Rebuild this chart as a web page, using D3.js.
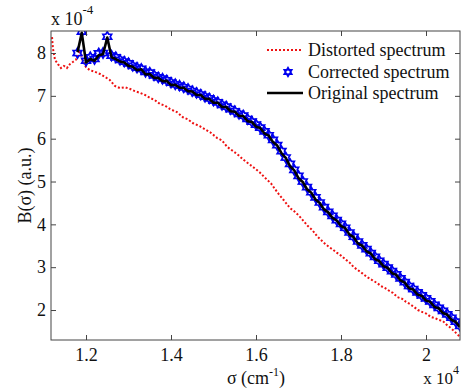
<!DOCTYPE html>
<html>
<head>
<meta charset="utf-8">
<script src="https://cdn.jsdelivr.net/npm/d3@7"></script>
<style>
  body { margin: 0; background: #fff; }
  svg text { font-family: "Liberation Serif", "Times New Roman", Times, "DejaVu Serif", serif; fill: #111; }
</style>
</head>
<body>
<svg id="chart"></svg>
<script>
// wavenumber (x 1e4 cm^-1) and B (x 1e-4 a.u.)
const distSigma = [1.120, 1.122, 1.127, 1.134, 1.141, 1.148, 1.155, 1.162, 1.169, 1.176, 1.181, 1.186, 1.193,
  1.200, 1.209, 1.221, 1.233, 1.245, 1.256, 1.268, 1.280, 1.292, 1.304, 1.315, 1.327, 1.339, 1.351, 1.362, 1.374,
  1.386, 1.398, 1.414, 1.428, 1.440, 1.452, 1.468, 1.480, 1.492, 1.508, 1.520, 1.532, 1.546, 1.558, 1.569, 1.586,
  1.598, 1.609, 1.626, 1.635, 1.645, 1.654, 1.664, 1.680, 1.692, 1.704, 1.722, 1.733, 1.744, 1.762, 1.772, 1.781,
  1.790, 1.800, 1.812, 1.821, 1.830, 1.840, 1.851, 1.861, 1.873, 1.885, 1.894, 1.904, 1.913, 1.922, 1.933, 1.944,
  1.953, 1.962, 1.972, 1.981, 1.992, 2.002, 2.011, 2.021, 2.030, 2.040, 2.048, 2.056, 2.064, 2.071, 2.080];
const distorted = [8.37, 8.12, 7.84, 7.74, 7.65, 7.70, 7.65, 7.74, 7.79, 7.84, 7.93, 8.07, 7.79,
  7.67, 7.60, 7.56, 7.51, 7.44, 7.37, 7.23, 7.18, 7.20, 7.16, 7.11, 7.07, 7.02, 6.95, 6.90, 6.81,
  6.77, 6.69, 6.62, 6.50, 6.45, 6.36, 6.29, 6.22, 6.15, 6.02, 5.96, 5.81, 5.71, 5.62, 5.52, 5.39,
  5.30, 5.21, 5.04, 4.96, 4.82, 4.70, 4.58, 4.38, 4.29, 4.17, 3.96, 3.86, 3.72, 3.55, 3.47, 3.41,
  3.34, 3.27, 3.17, 3.10, 3.00, 2.93, 2.85, 2.77, 2.70, 2.63, 2.56, 2.51, 2.45, 2.40, 2.30, 2.26,
  2.19, 2.14, 2.07, 2.00, 1.95, 1.91, 1.84, 1.81, 1.77, 1.74, 1.66, 1.60, 1.53, 1.46, 1.37];

const sigma = [1.18, 1.19, 1.20, 1.21, 1.22, 1.23, 1.24, 1.25, 1.26, 1.27, 1.28, 1.29, 1.30, 1.31, 1.32,
  1.33, 1.34, 1.35, 1.36, 1.37, 1.38, 1.39, 1.40, 1.41, 1.42, 1.43, 1.44, 1.45, 1.46, 1.47, 1.48, 1.49,
  1.50, 1.51, 1.52, 1.53, 1.54, 1.55, 1.56, 1.57, 1.58, 1.59, 1.60, 1.61, 1.62, 1.63, 1.64, 1.65, 1.66,
  1.67, 1.68, 1.69, 1.70, 1.71, 1.72, 1.73, 1.74, 1.75, 1.76, 1.77, 1.78, 1.79, 1.80, 1.81, 1.82, 1.83,
  1.84, 1.85, 1.86, 1.87, 1.88, 1.89, 1.90, 1.91, 1.92, 1.93, 1.94, 1.95, 1.96, 1.97, 1.98, 1.99, 2.00,
  2.01, 2.02, 2.03, 2.04, 2.05, 2.06, 2.07, 2.08];
const original = [8.02, 8.47, 7.78, 7.86, 7.82, 7.95, 7.97, 8.36, 7.90, 7.86, 7.80, 7.78, 7.70, 7.68, 7.60,
  7.62, 7.50, 7.51, 7.42, 7.42, 7.34, 7.35, 7.25, 7.26, 7.19, 7.19, 7.11, 7.10, 7.02, 7.02, 6.93, 6.93,
  6.84, 6.84, 6.74, 6.74, 6.64, 6.63, 6.53, 6.53, 6.41, 6.39, 6.28, 6.25, 6.12, 6.07, 5.92, 5.84, 5.66,
  5.55, 5.36, 5.26, 5.08, 4.99, 4.82, 4.74, 4.58, 4.50, 4.35, 4.28, 4.15, 4.09, 3.96, 3.91, 3.76, 3.70,
  3.55, 3.50, 3.37, 3.32, 3.19, 3.14, 3.02, 2.98, 2.86, 2.82, 2.69, 2.64, 2.51, 2.48, 2.36, 2.33, 2.22,
  2.19, 2.07, 2.04, 1.93, 1.89, 1.77, 1.72, 1.60];
const corrected = [8.00, 8.50, 7.82, 7.90, 7.86, 7.99, 8.00, 8.38, 7.94, 7.90, 7.84, 7.80, 7.76, 7.70, 7.66,
  7.63, 7.56, 7.54, 7.48, 7.43, 7.40, 7.36, 7.31, 7.27, 7.24, 7.20, 7.16, 7.11, 7.07, 7.03, 6.98, 6.94,
  6.89, 6.85, 6.79, 6.75, 6.69, 6.64, 6.58, 6.54, 6.46, 6.40, 6.33, 6.26, 6.17, 6.08, 5.97, 5.85, 5.71,
  5.56, 5.41, 5.27, 5.13, 5.00, 4.87, 4.75, 4.63, 4.51, 4.40, 4.29, 4.20, 4.10, 4.01, 3.92, 3.81, 3.71,
  3.60, 3.51, 3.42, 3.33, 3.24, 3.15, 3.07, 2.99, 2.91, 2.83, 2.74, 2.65, 2.56, 2.49, 2.41, 2.34, 2.27,
  2.20, 2.12, 2.05, 1.98, 1.90, 1.82, 1.73, 1.63];

const xTicks = [1.2, 1.4, 1.6, 1.8, 2.0];
const yTicks = [2, 3, 4, 5, 6, 7, 8];
const legendLabels = ["Distorted spectrum", "Corrected spectrum", "Original spectrum"];

const W = 461, H = 390;
const margin = { top: 31, right: 1, bottom: 50, left: 51 };
const width = W - margin.left - margin.right;
const height = H - margin.top - margin.bottom;
const serif = "'Liberation Serif', 'Times New Roman', Times, 'DejaVu Serif', serif";

const x = d3.scaleLinear().domain([1.1176, 2.08]).range([0, width]);
const y = d3.scaleLinear().domain([1.30, 8.514]).range([height, 0]);

const svg = d3.select("#chart").attr("width", W).attr("height", H)
  .attr("font-family", serif);
const g = svg.append("g").attr("transform", "translate(" + margin.left + "," + margin.top + ")");

g.append("defs").append("clipPath").attr("id", "clip")
  .append("rect").attr("width", width).attr("height", height);

// six-pointed star marker
function hexagram(r) {
  const pts = [];
  for (let i = 0; i < 12; i++) {
    const a = -Math.PI / 2 + i * Math.PI / 6;
    const rr = i % 2 === 0 ? r : r * 0.58;
    pts.push([rr * Math.cos(a), rr * Math.sin(a)]);
  }
  return "M" + pts.map(p => p[0].toFixed(2) + "," + p[1].toFixed(2)).join("L") + "Z";
}

const line = d3.line().x(d => x(d[0])).y(d => y(d[1]));
const plot = g.append("g").attr("clip-path", "url(#clip)");

// distorted
plot.append("path")
  .datum(distSigma.map((s, i) => [s, distorted[i]]))
  .attr("d", line)
  .attr("fill", "none")
  .attr("stroke", "#ee1111")
  .attr("stroke-width", 2)
  .attr("stroke-dasharray", "2,2");

// corrected markers
plot.selectAll(".mk")
  .data(sigma.map((s, i) => [s, corrected[i]]))
  .enter().append("path")
  .attr("class", "mk")
  .attr("transform", d => "translate(" + x(d[0]) + "," + y(d[1]) + ")")
  .attr("d", hexagram(5))
  .attr("fill", "none")
  .attr("stroke", "#0000ee")
  .attr("stroke-width", 1.7);

// original
plot.append("path")
  .datum(sigma.map((s, i) => [s, original[i]]))
  .attr("d", line)
  .attr("fill", "none")
  .attr("stroke", "#000")
  .attr("stroke-width", 2.6)
  .attr("stroke-linejoin", "round");

// axes (box with inward ticks)
const axisColor = "#444";
const fontSize = 18;
function styleAxis(sel) {
  sel.attr("font-family", serif).attr("font-size", fontSize);
  sel.select(".domain").remove();
  sel.selectAll(".tick line").attr("stroke", axisColor);
  sel.selectAll(".tick text").attr("fill", "#111");
}

g.append("g").attr("transform", "translate(0," + height + ")")
  .call(d3.axisBottom(x).tickValues(xTicks).tickSizeInner(-5).tickPadding(8).tickFormat(d3.format(".1~f")))
  .call(styleAxis);
g.append("g")
  .call(d3.axisTop(x).tickValues(xTicks).tickSizeInner(-5).tickFormat(""))
  .call(styleAxis);
g.append("g")
  .call(d3.axisLeft(y).tickValues(yTicks).tickSizeInner(-5).tickPadding(5).tickFormat(d3.format("d")))
  .call(styleAxis);
g.append("g").attr("transform", "translate(" + width + ",0)")
  .call(d3.axisRight(y).tickValues(yTicks).tickSizeInner(-5).tickFormat(""))
  .call(styleAxis);

g.append("rect").attr("width", width).attr("height", height)
  .attr("fill", "none").attr("stroke", axisColor).attr("stroke-width", 1);

// exponent labels
const e1 = svg.append("text").attr("x", 51).attr("y", 25).attr("font-size", fontSize);
e1.append("tspan").text("x 10");
e1.append("tspan").attr("dy", -11).attr("font-size", 13).text("-4");

const e2 = svg.append("text").attr("x", 459).attr("y", 384).attr("text-anchor", "end")
  .attr("font-size", 17);
e2.append("tspan").text("x 10");
e2.append("tspan").attr("dy", -10).attr("font-size", 12).text("4");

// axis titles
const xl = svg.append("text").attr("x", 256).attr("y", 384).attr("text-anchor", "middle")
  .attr("font-size", fontSize);
xl.append("tspan").text("σ (cm");
xl.append("tspan").attr("dy", -8).attr("font-size", 12).text("-1");
xl.append("tspan").attr("dy", 8).text(")");

svg.append("text")
  .attr("transform", "translate(31," + (margin.top + height / 2) + ") rotate(-90)")
  .attr("text-anchor", "middle")
  .attr("font-size", fontSize)
  .text("B(σ) (a.u.)");

// legend
const lg = svg.append("g");
const rows = [50, 72, 93];
lg.append("line").attr("x1", 267).attr("x2", 303).attr("y1", rows[0]).attr("y2", rows[0])
  .attr("stroke", "#ee1111").attr("stroke-width", 2).attr("stroke-dasharray", "2,2");
lg.append("path").attr("transform", "translate(288," + rows[1] + ")").attr("d", hexagram(4))
  .attr("fill", "none").attr("stroke", "#0000ee").attr("stroke-width", 2);
lg.append("line").attr("x1", 267).attr("x2", 303).attr("y1", rows[2]).attr("y2", rows[2])
  .attr("stroke", "#000").attr("stroke-width", 2.6);
legendLabels.forEach((t, i) => {
  lg.append("text").attr("x", 308).attr("y", rows[i] + 6).attr("font-size", fontSize).text(t);
});
</script>
</body>
</html>
